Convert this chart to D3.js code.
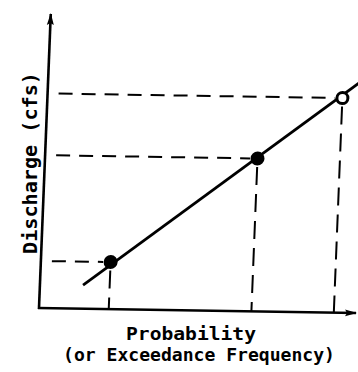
<!DOCTYPE html>
<html>
<head>
<meta charset="utf-8">
<script src="https://cdn.jsdelivr.net/npm/d3@7"></script>
<style>
  html, body { margin: 0; padding: 0; background: #fff; }
  svg { display: block; }
  text { font-family: "DejaVu Sans Mono", "Liberation Mono", monospace; fill: #000; }
</style>
</head>
<body>
<svg id="chart" width="358" height="372"></svg>
<script>
// Frequency curve: three plotted events on probability vs discharge axes
const pointProbability = [22, 67, 93];
const pointDischarge   = [16, 52, 73];
// fitted straight line through the events (start / end)
const lineProbability  = [13.6, 99];
const lineDischarge    = [8, 79];
const xTitleLines = ["Probability", "(or Exceedance Frequency)"];
const yTitle = "Discharge (cfs)";

const svg = d3.select("#chart");
const x0 = 39, x1 = 356, yBottom = 308, yTop = 14;

const x = d3.scaleLinear().domain([0, 100]).range([x0, x1]);
const y = d3.scaleLinear().domain([0, 100]).range([yBottom, yTop]);

// arrow heads
const defs = svg.append("defs");
defs.append("marker")
  .attr("id", "arrow")
  .attr("viewBox", "0 0 12 10")
  .attr("refX", 11).attr("refY", 5)
  .attr("markerWidth", 12).attr("markerHeight", 10)
  .attr("markerUnits", "userSpaceOnUse")
  .attr("orient", "auto")
  .append("path")
  .attr("d", "M0,1.5 L12,5 L0,8.5 L2,5 Z")
  .attr("fill", "#000");

// hand-drawn sheet sits slightly askew
const g = svg.append("g")
  .attr("transform", `translate(${x0},${yBottom}) matrix(1,0.016,-0.04,1,0,0) translate(${-x0},${-yBottom})`);

// axes
g.append("line")
  .attr("x1", x(0)).attr("y1", y(0) + 1)
  .attr("x2", x(0)).attr("y2", y(100))
  .attr("stroke", "#000").attr("stroke-width", 2.6)
  .attr("marker-end", "url(#arrow)");
g.append("line")
  .attr("x1", x(0) - 1).attr("y1", y(0))
  .attr("x2", x(100)).attr("y2", y(0))
  .attr("stroke", "#000").attr("stroke-width", 2.6)
  .attr("marker-end", "url(#arrow)");

const pts = pointProbability.map((p, i) => ({ p, q: pointDischarge[i] }));
const r = 5.5;

// horizontal dashed guides to the discharge axis
g.selectAll(".hguide").data(pts).join("line")
  .attr("class", "hguide")
  .attr("x1", x(0) + 11).attr("x2", d => x(d.p) - r - 2)
  .attr("y1", d => y(d.q)).attr("y2", d => y(d.q))
  .attr("stroke", "#000").attr("stroke-width", 2)
  .attr("stroke-dasharray", "14,9");

// vertical dashed guides to the probability axis
g.selectAll(".vguide").data(pts).join("line")
  .attr("class", "vguide")
  .attr("x1", d => x(d.p)).attr("x2", d => x(d.p))
  .attr("y1", d => y(d.q) + r + 3).attr("y2", y(0))
  .attr("stroke", "#000").attr("stroke-width", 2)
  .attr("stroke-dasharray", "18,9");

// fitted line
g.append("path")
  .datum(lineProbability.map((p, i) => [p, lineDischarge[i]]))
  .attr("d", d3.line().x(d => x(d[0])).y(d => y(d[1])))
  .attr("fill", "none").attr("stroke", "#000").attr("stroke-width", 2.8);

// plotted events: the two lower ones inked solid, the top one left open
g.selectAll(".event").data(pts).join("circle")
  .attr("class", "event")
  .attr("cx", d => x(d.p)).attr("cy", d => y(d.q))
  .attr("r", r)
  .attr("fill", (d, i) => i < 2 ? "#000" : "#fff")
  .attr("stroke", "#000").attr("stroke-width", 3);

// titles
svg.append("text")
  .attr("x", 191).attr("y", 340)
  .attr("text-anchor", "middle")
  .attr("font-size", 18).attr("font-weight", "bold")
  .attr("textLength", 130).attr("lengthAdjust", "spacingAndGlyphs")
  .text(xTitleLines[0]);
svg.append("text")
  .attr("x", 199).attr("y", 361)
  .attr("text-anchor", "middle")
  .attr("font-size", 18).attr("font-weight", "bold")
  .attr("textLength", 272).attr("lengthAdjust", "spacingAndGlyphs")
  .text(xTitleLines[1]);
svg.append("text")
  .attr("transform", "translate(37,163) rotate(-90)")
  .attr("text-anchor", "middle")
  .attr("font-size", 19).attr("font-weight", "bold")
  .attr("textLength", 182).attr("lengthAdjust", "spacingAndGlyphs")
  .text(yTitle);
</script>
</body>
</html>
